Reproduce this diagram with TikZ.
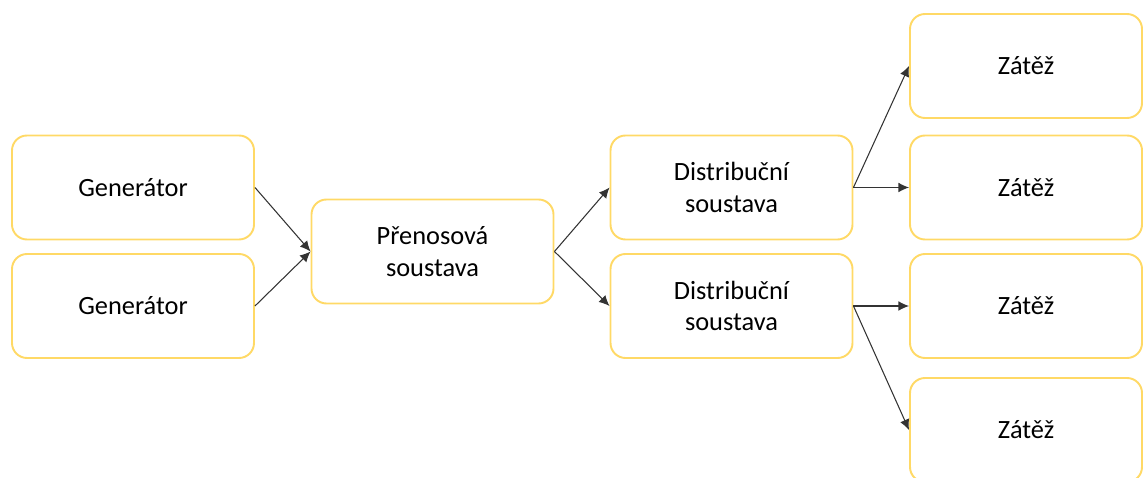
\documentclass[tikz,border=0pt]{standalone}
\usepackage{fontspec}
\setmainfont{Carlito}
\usepackage{tikz}
\usetikzlibrary{arrows.meta}
\definecolor{boxyellow}{HTML}{FFD966}

\begin{document}
\begin{tikzpicture}[
  blok/.style={draw=boxyellow,line width=1.1pt,rounded corners=0.3cm,
    minimum width=4.84cm,minimum height=2.08cm,align=center,
    font=\fontsize{15}{18}\selectfont},
  sipka/.style={draw=black!80,line width=0.6pt,arrows={-Latex[length=6pt,width=5.5pt]}}]
\clip (0,0) rectangle (22.88,-9.56);
\node[blok] (gen1) at (2.66,-3.75) {Generátor};
\node[blok] (gen2) at (2.66,-6.12) {Generátor};
\node[blok] (pren) at (8.65,-5.03) {Přenosová\\soustava};
\node[blok] (dist1) at (14.63,-3.75) {Distribuční\\soustava};
\node[blok] (dist2) at (14.63,-6.12) {Distribuční\\soustava};
\node[blok,minimum width=4.64cm] (z1) at (20.52,-1.32) {Zátěž};
\node[blok,minimum width=4.64cm] (z2) at (20.52,-3.75) {Zátěž};
\node[blok,minimum width=4.64cm] (z3) at (20.52,-6.12) {Zátěž};
\node[blok,minimum width=4.64cm] (z4) at (20.52,-8.60) {Zátěž};
\draw[sipka] (gen1.east) -- (pren.west);
\draw[sipka] (gen2.east) -- (pren.west);
\draw[sipka] (pren.east) -- (dist1.west);
\draw[sipka] (pren.east) -- (dist2.west);
\draw[sipka] (dist1.east) -- (z1.west);
\draw[sipka] (dist1.east) -- (z2.west);
\draw[sipka] (dist2.east) -- (z3.west);
\draw[sipka] (dist2.east) -- (z4.west);
\end{tikzpicture}
\end{document}
